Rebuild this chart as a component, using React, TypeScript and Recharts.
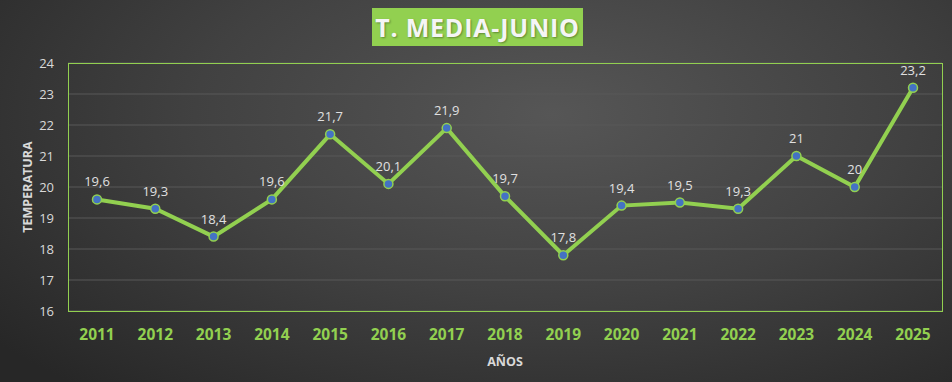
import React from 'react';
import {
  LineChart,
  Line,
  XAxis,
  YAxis,
  CartesianGrid,
  LabelList,
} from 'recharts';

const years = ['2011', '2012', '2013', '2014', '2015', '2016', '2017', '2018', '2019', '2020', '2021', '2022', '2023', '2024', '2025'];
const temps = [19.6, 19.3, 18.4, 19.6, 21.7, 20.1, 21.9, 19.7, 17.8, 19.4, 19.5, 19.3, 21, 20, 23.2];
const yTicks = [16, 17, 18, 19, 20, 21, 22, 23, 24];

const data = years.map((y, i) => ({ year: y, temp: temps[i] }));

const GREEN = '#92d050';
const FONT = '"Open Sans", "Noto Sans", sans-serif';

const fmt = (v: number) => String(v).replace('.', ',');

export default function App() {
  return (
    <div
      style={{
        position: 'absolute',
        left: 0,
        top: 0,
        width: 952,
        height: 382,
        overflow: 'hidden',
        fontFamily: FONT,
        background:
          'radial-gradient(ellipse 75% 95% at 58% 30%, #565656 0%, #414141 50%, #272727 100%)',
      }}
    >
      <div
        style={{
          position: 'absolute',
          left: 372,
          top: 8,
          width: 211,
          height: 38,
          background: GREEN,
          color: '#f5f5f5',
          fontWeight: 700,
          fontSize: 25,
          lineHeight: '38px',
          textAlign: 'center',
          letterSpacing: 0.8,
          textShadow: '1px 1px 2px rgba(0,0,0,0.35)',
        }}
      >
        T. MEDIA-JUNIO
      </div>
      <LineChart
        width={952}
        height={382}
        data={data}
        margin={{ top: 63, right: 10, bottom: 0, left: 28 }}
        style={{ position: 'absolute', left: 0, top: 0 }}
      >
        <CartesianGrid vertical={false} stroke="#585858" strokeWidth={1} />
        <XAxis
          dataKey="year"
          height={71}
          padding={{ left: 29, right: 29 }}
          axisLine={false}
          tickLine={false}
          tickSize={0}
          tickMargin={18}
          tick={{ fill: GREEN, fontSize: 15.5, fontWeight: 700, fontFamily: FONT }}
          label={{
            content: ({ viewBox }: any) => (
              <text
                x={viewBox.x + viewBox.width / 2}
                y={viewBox.y + 50}
                textAnchor="middle"
                dominantBaseline="central"
                fill="#d9d9d9"
                fontSize={12.5}
                fontWeight={700}
                fontFamily={FONT}
              >
                AÑOS
              </text>
            ),
          }}
        />
        <YAxis
          width={40}
          domain={[16, 24]}
          ticks={yTicks}
          axisLine={false}
          tickLine={false}
          tickSize={0}
          tickMargin={14}
          tick={{ fill: '#d9d9d9', fontSize: 13, fontFamily: FONT }}
          label={{
            content: ({ viewBox }: any) => {
              const cx = 27;
              const cy = viewBox.y + viewBox.height / 2;
              return (
                <text
                  x={cx}
                  y={cy}
                  transform={`rotate(-90, ${cx}, ${cy})`}
                  textAnchor="middle"
                  dominantBaseline="central"
                  fill="#d9d9d9"
                  fontSize={12.5}
                  fontWeight={700}
                  fontFamily={FONT}
                >
                  TEMPERATURA
                </text>
              );
            },
          }}
        />
        <Line
          type="linear"
          dataKey="temp"
          stroke={GREEN}
          strokeWidth={4}
          dot={{ r: 4.5, fill: '#4472c4', stroke: GREEN, strokeWidth: 1.5 }}
          activeDot={false}
          isAnimationActive={false}
        >
          <LabelList
            dataKey="temp"
            position="top"
            offset={13}
            formatter={(v: any) => fmt(v)}
            fill="#e0e0e0"
            fontSize={13}
            fontFamily={FONT}
          />
        </Line>
      </LineChart>
      <div
        style={{
          position: 'absolute',
          left: 68,
          top: 63,
          width: 873,
          height: 247,
          border: `1px solid ${GREEN}`,
          pointerEvents: 'none',
        }}
      />
    </div>
  );
}
